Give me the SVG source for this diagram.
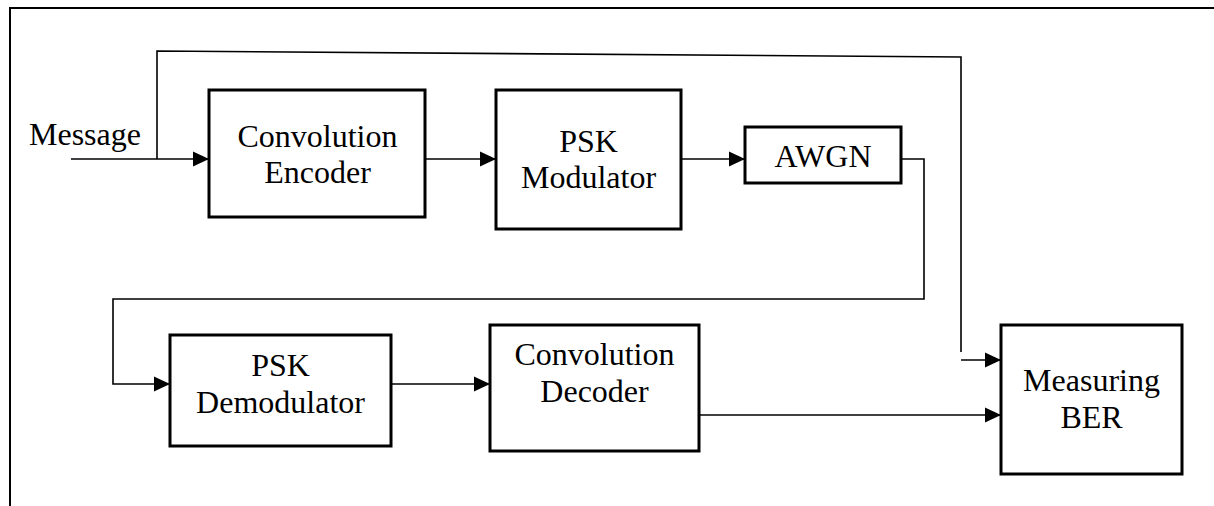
<svg xmlns="http://www.w3.org/2000/svg" width="1214" height="506" viewBox="0 0 1214 506">
<style>
.box{fill:#fff;stroke:#000;stroke-width:3}
.ln{fill:none;stroke:#000;stroke-width:1.6}
.frame{fill:none;stroke:#000;stroke-width:2}
.t{font-family:'Liberation Serif','Times New Roman',serif;font-size:32px;fill:#000}
.c{text-anchor:middle}
</style>
<defs>
<marker id="arr" markerWidth="16" markerHeight="16" viewBox="0 0 16 16" refX="16" refY="8" markerUnits="userSpaceOnUse" orient="auto">
<path d="M0,0.5 L16,8 L0,15.5 Z" fill="#000"/>
</marker>
</defs>
<rect width="1214" height="506" fill="#fff"/>
<path class="frame" d="M10,506 L10,8 L1214,8"/>
<g id="connectors">
<path class="ln" d="M71,159 L209,159" marker-end="url(#arr)"/>
<path class="ln" d="M157,159 L157,51 L961,57 L961,352"/>
<path class="ln" d="M961,360 L1001,360" marker-end="url(#arr)"/>
<path class="ln" d="M425,159 L496,159" marker-end="url(#arr)"/>
<path class="ln" d="M681,159 L745,159" marker-end="url(#arr)"/>
<path class="ln" d="M901,159 L924,159 L924,299 L113,299 L113,384 L170,384" marker-end="url(#arr)"/>
<path class="ln" d="M391,384 L490,384" marker-end="url(#arr)"/>
<path class="ln" d="M699,415 L1001,415" marker-end="url(#arr)"/>
</g>
<g id="message"><text class="t" x="29" y="145">Message</text></g>
<g id="encoder">
<rect class="box" x="209" y="90" width="216" height="127"/>
<text class="t c" x="317.5" y="147">Convolution</text>
<text class="t c" x="317.5" y="183">Encoder</text>
</g>
<g id="modulator">
<rect class="box" x="496" y="90" width="185" height="139"/>
<text class="t c" x="588.5" y="152">PSK</text>
<text class="t c" x="588.5" y="188">Modulator</text>
</g>
<g id="awgn">
<rect class="box" x="745" y="127" width="156" height="56"/>
<text class="t c" x="823" y="167">AWGN</text>
</g>
<g id="demodulator">
<rect class="box" x="170" y="335" width="221" height="111"/>
<text class="t c" x="280.5" y="376">PSK</text>
<text class="t c" x="280.5" y="413">Demodulator</text>
</g>
<g id="decoder">
<rect class="box" x="490" y="325" width="209" height="126"/>
<text class="t c" x="594.5" y="365">Convolution</text>
<text class="t c" x="594.5" y="402">Decoder</text>
</g>
<g id="ber">
<rect class="box" x="1001" y="325" width="181" height="149"/>
<text class="t c" x="1091.5" y="391">Measuring</text>
<text class="t c" x="1091.5" y="428">BER</text>
</g>
</svg>
